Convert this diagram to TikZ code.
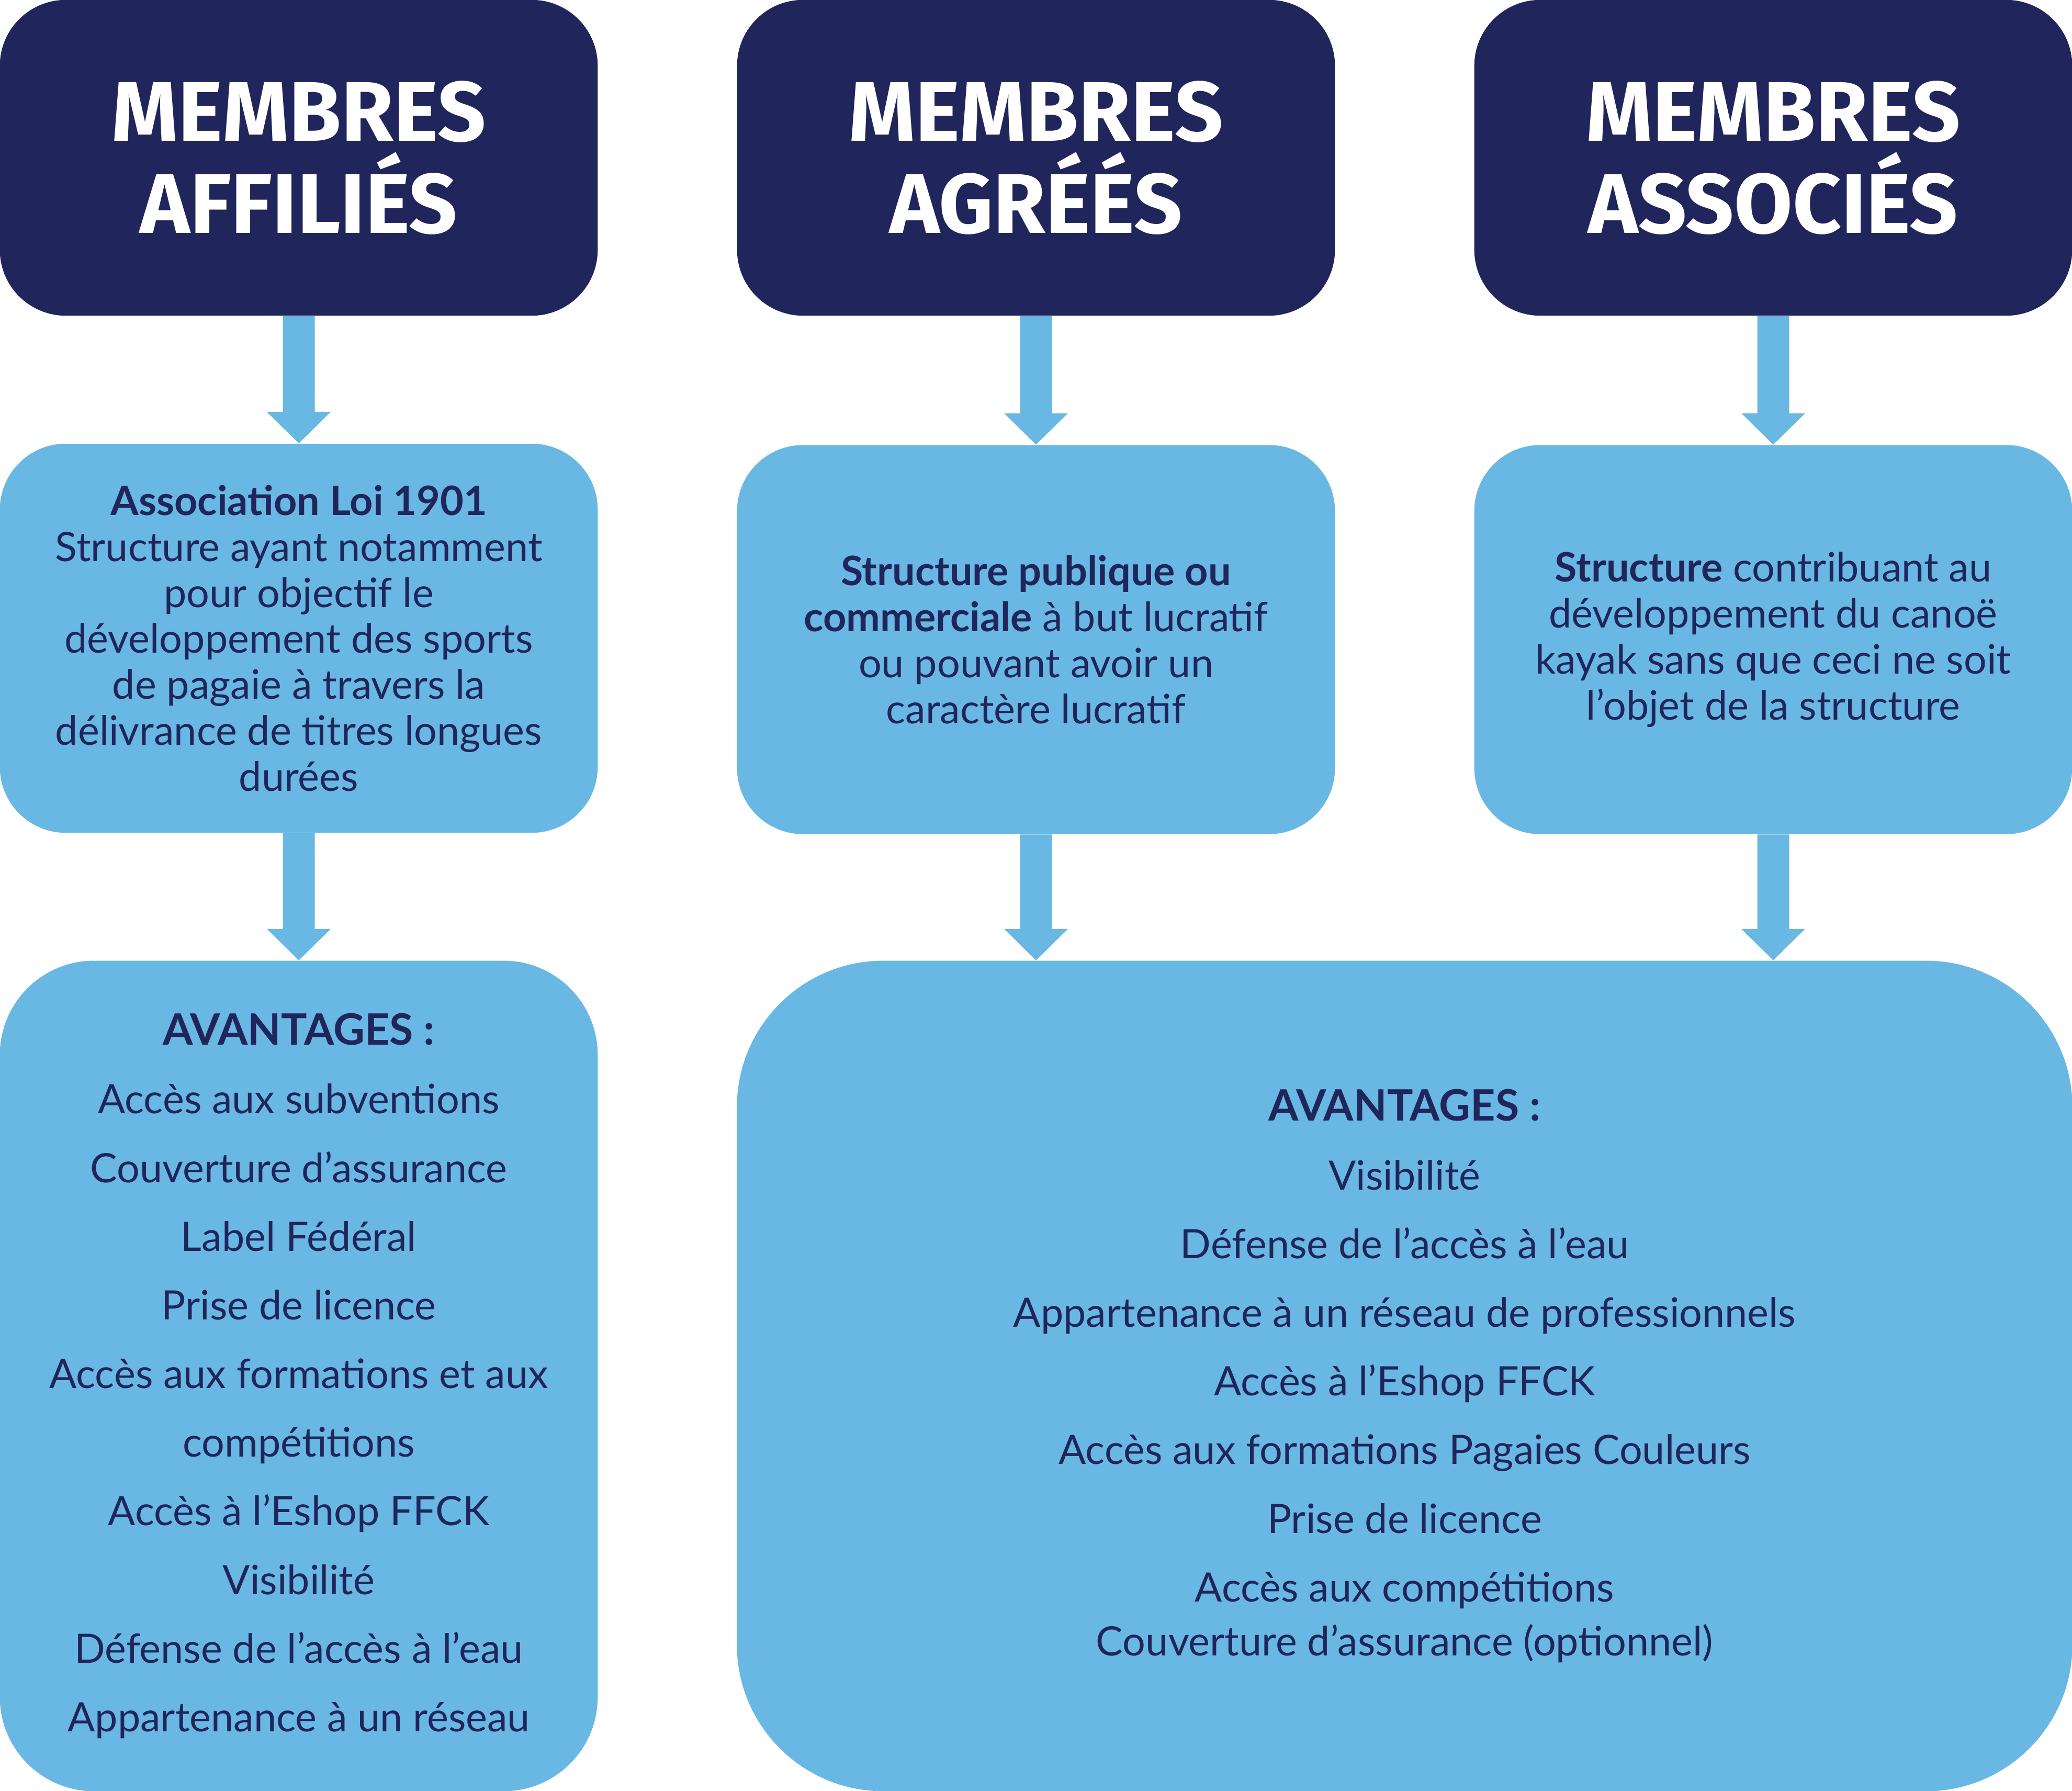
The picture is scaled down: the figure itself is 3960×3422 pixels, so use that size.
\documentclass[tikz,border=0pt]{standalone}
\usepackage{fontspec}
\setmainfont{Lato}
\newfontfamily\titrefont{Fira Sans}
\usetikzlibrary{calc}

\definecolor{marine}{RGB}{32,37,91}
\definecolor{ciel}{RGB}{105,184,228}

\tikzset{
  titre/.style={fill=marine, rounded corners=1.26cm, minimum width=11.42cm,
    minimum height=6.03cm, inner sep=0pt, text=white, align=center,
    font=\titrefont\bfseries\fontsize{46}{50}\selectfont},
  bloc/.style={fill=ciel, rounded corners=1.26cm, minimum width=11.42cm,
    minimum height=7.43cm, inner sep=0pt, text=marine, align=center,
    font=\fontsize{22}{25}\selectfont},
  liste/.style={fill=ciel, minimum height=15.86cm, inner sep=0pt,
    text=marine, align=center, font=\fontsize{22}{37.3}\selectfont},
  fleche/.style={fill=ciel}
}

% arrow from #1 down to #2
\newcommand{\flechebas}[2]{%
  \fill[fleche] ($(#1)+(-30.5,0)$) -- ($(#2)+(-30.5,-60)$) -- ($(#2)+(-61,-60)$)
    -- (#2) -- ($(#2)+(61,-60)$) -- ($(#2)+(30.5,-60)$) -- ($(#1)+(30.5,0)$) -- cycle;}

\begin{document}
\begin{tikzpicture}[x=0.01cm,y=-0.01cm]
\useasboundingbox (0,0) rectangle (3960,3422);

\node[titre] (affilies) at (571,301.5) {MEMBRES\\AFFILIÉS};
\node[titre] (agrees) at (1980,301.5) {MEMBRES\\AGRÉÉS};
\node[titre] (associes) at (3389,301.5) {MEMBRES\\ASSOCIÉS};

\node[bloc] (defaff) at (571,1219.5) {\textbf{Association Loi 1901}\\
  Structure ayant notamment\\ pour objectif le\\ développement des sports\\
  de pagaie à travers la\\ délivrance de titres longues\\ durées};
\node[bloc] (defagr) at (1980,1222) {\textbf{Structure publique ou}\\
  \textbf{commerciale} à but lucratif\\ ou pouvant avoir un\\ caractère lucratif};
\node[bloc] (defass) at (3389,1222) {\textbf{Structure} contribuant au\\
  développement du canoë\\ kayak sans que ceci ne soit\\ l’objet de la structure};

\node[liste, rounded corners=1.8cm, minimum width=11.42cm] (avaff) at (571,2629)
  {{\bfseries\fontsize{23.5}{37.3}\selectfont AVANTAGES :}\\
  Accès aux subventions\\ Couverture d’assurance\\ Label Fédéral\\
  Prise de licence\\ Accès aux formations et aux\\ compétitions\\
  Accès à l’Eshop FFCK\\ Visibilité\\ Défense de l’accès à l’eau\\
  Appartenance à un réseau};
\node[liste, rounded corners=2.8cm, minimum width=25.51cm] (avautres) at (2684.5,2629)
  {{\bfseries\fontsize{23.5}{37.3}\selectfont AVANTAGES :}\\
  Visibilité\\ Défense de l’accès à l’eau\\
  Appartenance à un réseau de professionnels\\ Accès à l’Eshop FFCK\\
  Accès aux formations Pagaies Couleurs\\ Prise de licence\\
  Accès aux compétitions\\[-8pt] Couverture d’assurance (optionnel)};

\coordinate (finagr) at (defagr.south |- avautres.north);
\coordinate (finass) at (defass.south |- avautres.north);

\flechebas{affilies.south}{defaff.north}
\flechebas{agrees.south}{defagr.north}
\flechebas{associes.south}{defass.north}
\flechebas{defaff.south}{avaff.north}
\flechebas{defagr.south}{finagr}
\flechebas{defass.south}{finass}
\end{tikzpicture}
\end{document}
